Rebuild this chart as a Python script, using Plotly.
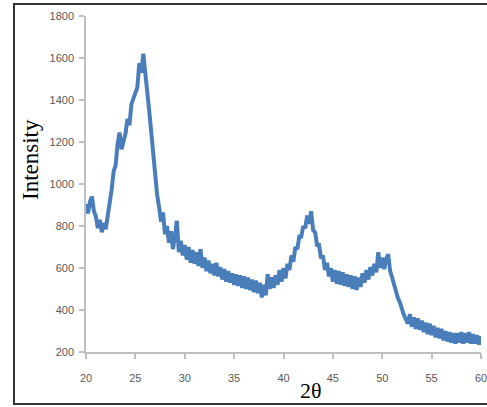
import plotly.graph_objects as go

# 2-theta grid start/step and intensity values (step 0.2 deg)
theta_start = 20.0
theta_step = 0.2
intensity = [
    905, 860, 915, 940, 870, 845, 790, 830, 770, 815, 785,
    840, 900, 975, 1060, 1090, 1190, 1245, 1165, 1210, 1240,
    1310, 1280, 1380, 1410, 1430, 1460, 1575, 1530, 1620, 1540,
    1450, 1350, 1250, 1140, 1040, 950, 890, 820, 865, 760,
    800, 720, 775, 690, 750, 825, 675, 730, 660, 710,
    640, 700, 625, 685, 620, 675, 610, 690, 600, 650,
    585, 635, 575, 620, 565, 625, 560, 605, 545, 595,
    535, 585, 530, 575, 520, 570, 515, 565, 505, 560,
    500, 555, 495, 545, 485, 540, 480, 530, 460, 520,
    470, 570, 500, 555, 505, 565, 520, 590, 535, 600,
    550, 620, 590, 660, 630, 700, 690, 750, 750, 800,
    790, 850, 810, 870, 780, 770, 710, 710, 645, 660,
    590, 625, 560, 600, 535, 590, 525, 585, 520, 580,
    515, 570, 510, 565, 500, 560, 495, 555, 510, 575,
    530, 590, 545, 605, 565, 620, 580, 675, 600, 650,
    595, 645, 665, 585, 555, 515, 495, 455, 435, 395,
    375, 355, 335, 380, 320, 365, 310, 360, 305, 350,
    295, 340, 285, 335, 280, 325, 270, 315, 265, 310,
    255, 300, 250, 295, 245, 290, 240, 290, 245, 295,
    240, 290, 245, 295, 240, 285, 240, 280, 235, 275,
]
two_theta = [round(theta_start + theta_step * i, 1) for i in range(len(intensity))]

x_ticks = [20, 25, 30, 35, 40, 45, 50, 55, 60]
y_ticks = [200, 400, 600, 800, 1000, 1200, 1400, 1600, 1800]

fig = go.Figure()
fig.add_trace(go.Scatter(
    x=two_theta, y=intensity, mode="lines",
    line=dict(color="#4a7ebb", width=4),
    showlegend=False,
))

tick_font = dict(family="Liberation Sans, Arial, sans-serif", size=11, color="#595959")

fig.update_layout(
    width=487, height=407,
    margin=dict(l=86, r=6, t=16, b=55),
    paper_bgcolor="white", plot_bgcolor="white",
    xaxis=dict(
        range=[20, 60], tickvals=x_ticks, ticktext=[str(v) for v in x_ticks],
        showgrid=False, zeroline=False, automargin=False,
        showline=True, linecolor="#bfbfbf", linewidth=1.5,
        ticks="outside", ticklen=5, tickcolor="#bfbfbf", tickwidth=1.5,
        tickfont=tick_font, ticklabelstandoff=10, ticklabeloverflow="allow",
    ),
    yaxis=dict(
        range=[200, 1800], tickvals=y_ticks, ticktext=[str(v) for v in y_ticks],
        showgrid=False, zeroline=False, automargin=False,
        showline=True, linecolor="#bfbfbf", linewidth=1.5,
        ticks="outside", ticklen=5, tickcolor="#bfbfbf", tickwidth=1.5,
        tickfont=tick_font, ticklabelstandoff=3, ticklabeloverflow="allow",
    ),
    annotations=[
        dict(text="Intensity", xref="paper", yref="paper",
             x=(30 - 86) / 395, y=(352 - 160) / 336,
             xanchor="center", yanchor="middle", textangle=-90, showarrow=False,
             font=dict(family="Liberation Serif, Times New Roman, serif", size=23, color="black")),
        dict(text="2θ", xref="paper", yref="paper",
             x=(311 - 86) / 395, y=(352 - 390) / 336,
             xanchor="center", yanchor="middle", showarrow=False,
             font=dict(family="Liberation Serif, Times New Roman, serif", size=22, color="black")),
    ],
    shapes=[
        dict(type="rect", xref="paper", yref="paper",
             x0=(14 - 86) / 395, x1=(492 - 86) / 395,
             y0=(352 - 404) / 336, y1=(352 - 4) / 336,
             line=dict(color="#333333", width=2), fillcolor="rgba(0,0,0,0)", layer="below"),
    ],
)

fig.write_html("out.html")
